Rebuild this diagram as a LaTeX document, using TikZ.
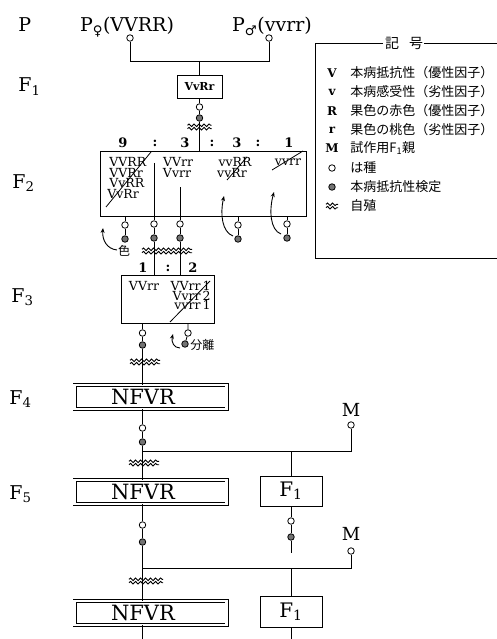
\documentclass[tikz,border=0pt]{standalone}
\usepackage{fontspec}
\setmainfont{DejaVu Serif}
\newfontfamily\jp{Noto Sans CJK JP}
\newfontfamily\symf{DejaVu Sans}
\usetikzlibrary{arrows.meta,decorations.pathmorphing}
\newcommand\myfs[1]{\fontsize{#1}{#1}\selectfont}
\tikzset{
  gen/.style={font=\myfs{19}, inner sep=0, anchor=base west},
  ptxt/.style={font=\myfs{19}, inner sep=0, anchor=base},
  oc/.style={circle, draw, fill=white, minimum size=6.5pt, inner sep=0},
  fc/.style={circle, draw, fill=black!55, minimum size=6.5pt, inner sep=0},
  sbox/.style={draw, inner sep=0},
  geno/.style={font=\myfs{12.5}, inner sep=0},
  ratio/.style={font=\bfseries\myfs{13}, inner sep=0},
  nbox/.style={draw, double, double distance=2.2pt, line width=0.9pt, inner sep=0},
  ntxt/.style={font=\myfs{21}, inner sep=0},
  ftxt/.style={font=\myfs{20}, inner sep=0},
  mtxt/.style={font=\myfs{18}, inner sep=0},
  jtxt/.style={font=\jp\myfs{12}, inner sep=0},
  legsym/.style={font=\bfseries\myfs{12}, inner sep=0},
  legtxt/.style={font=\jp\myfs{13}, inner sep=0, anchor=west},
  arr/.style={-{Stealth[length=5pt,width=4pt]}, line width=0.9pt},
  wv/.style={decorate, decoration={snake, segment length=5pt, amplitude=1.3pt}, line width=0.9pt},
  pics/selfing/.style={code={
    \draw[wv] (-#1,-1.7) -- (#1,-1.7);
    \draw[wv] (-#1,1.7) -- (#1,1.7);}},
}
\begin{document}
\begin{tikzpicture}[x=1pt,y=-1pt,line width=0.8pt]
\useasboundingbox (0,0) rectangle (497,639);

% generation labels
\node[gen] (gP) at (18,32) {P};
\node[gen] (g1) at (18,92) {F\textsubscript{1}};
\node[gen] (g2) at (12,188) {F\textsubscript{2}};
\node[gen] (g3) at (11,302) {F\textsubscript{3}};
\node[gen] (g4) at (9,404) {F\textsubscript{4}};
\node[gen] (g5) at (9,499) {F\textsubscript{5}};

% parents
\node[ptxt] (pf) at (127,32) {P\textsubscript{\symf ♀}(VVRR)};
\node[ptxt] (pm) at (272,32) {P\textsubscript{\symf ♂}(vvrr)};
\node[oc] (pfc) at (130,38) {};
\node[oc] (pmc) at (269,38) {};
\coordinate (j0) at (199.5,61);
\node[sbox, minimum width=45pt, minimum height=23pt, font=\bfseries\myfs{11}] (f1box) at (199.5,86.5) {VvRr};
\draw (pfc) |- (j0);
\draw (pmc) |- (j0);
\draw (j0) -- (f1box);

% F1 -> F2
\node[oc] (c1o) at (199.5,107) {};
\node[fc] (c1f) at (199.5,118) {};
\node[sbox, minimum width=206pt, minimum height=65pt] (f2box) at (203.5,183.5) {};
\draw (f1box) -- (c1o) -- (c1f) -- (c1f |- f2box.north);
\pic at (199.5,127) {selfing=12};

% ratio labels
\node[ratio] (r9) at (123,143) {9};
\node[ratio] (rc1) at (155,143) {:};
\node[ratio] (r3a) at (185,143) {3};
\node[ratio] (rc2) at (212,143) {:};
\node[ratio] (r3b) at (237,143) {3};
\node[ratio] (rc3) at (258,143) {:};
\node[ratio] (r1) at (289,143) {1};

% F2 genotypes
\node[geno, anchor=west] (a1) at (109,162) {VVRR};
\node[geno, anchor=west] (a2) at (109,172.5) {VVRr};
\node[geno, anchor=west] (a3) at (109,183) {VvRR};
\node[geno, anchor=west] (a4) at (107,193.5) {VvRr};
\draw (106,207) -- (151,152);
\node[geno] (b1) at (178,162) {VVrr};
\node[geno] (b2) at (177,172.5) {Vvrr};
\node[geno] (e1) at (235,162) {vvRR};
\node[geno] (e2) at (232,172.5) {vvRr};
\draw (227,180) -- (247,157);
\node[geno] (h1) at (288,162.5) {vvrr};
\draw (272,170) -- (303,151);

% F2 outputs
\coordinate (d1) at (154,163);
\coordinate (d2) at (180,187);
\node[oc] (c2ao) at (125,225) {};
\node[fc] (c2af) at (125,239) {};
\node[oc] (c2bo) at (154,224) {};
\node[fc] (c2bf) at (154,238) {};
\node[oc] (c2co) at (180,224) {};
\node[fc] (c2cf) at (180,238) {};
\node[oc] (c2do) at (238,225) {};
\node[fc] (c2df) at (238,239) {};
\node[oc] (c2eo) at (287,224) {};
\node[fc] (c2ef) at (287,238) {};
\draw (f2box.south -| c2ao) -- (c2ao) -- (c2af);
\draw (d1) -- (c2bo) -- (c2bf);
\draw (d2) -- (c2co) -- (c2cf);
\draw (f2box.south -| c2do) -- (c2do) -- (c2df);
\draw (f2box.south -| c2eo) -- (c2eo) -- (c2ef);
\node[jtxt] (iro) at (124,251) {色};
\draw[arr] (117,250) .. controls (107,249) and (102,240) .. (103,228);
\draw[arr] (233,236) .. controls (222,232) and (220,214) .. (224,196);
\draw[arr] (281,234) .. controls (270,230) and (269,210) .. (274,192);

% F3
\node[sbox, minimum width=93pt, minimum height=48pt] (f3box) at (168,299) {};
\draw (c2bf) -- (c2bf |- f3box.north);
\draw (c2cf) -- (c2cf |- f3box.north);
\pic at (167,251) {selfing=25};
\node[ratio] (s1) at (143,268) {1};
\node[ratio] (sc) at (168,268) {:};
\node[ratio] (s2) at (193,268) {2};
\node[geno] (t3a) at (144,286) {VVrr};
\node[geno, anchor=east] (t3b) at (211,286) {VVrr\,1};
\node[geno, anchor=east] (t3c) at (211,295.5) {Vvrr\,2};
\node[geno, anchor=east] (t3d) at (211,305) {vvrr\,1};
\draw (170,322) -- (210,281);

% F3 outputs
\node[oc] (c3ao) at (142.5,333) {};
\node[fc] (c3af) at (142.5,345) {};
\node[oc] (c3bo) at (188,333) {};
\node[fc] (c3bf) at (185,344) {};
\draw (f3box.south -| c3ao) -- (c3ao) -- (c3af);
\draw (f3box.south -| c3bo) -- (c3bo) -- (c3bf);
\draw[arr] (180,348) .. controls (174,348) and (171,342) .. (173,334);
\node[jtxt, anchor=west] (bunri) at (190,345) {分離};

% F4
\node[nbox, minimum width=152pt, minimum height=24pt] (f4box) at (150.5,397) {};
\node[ntxt] (f4t) at (143,397) {NFVR};
\draw (c3af) -- (c3af |- f4box.north);
\pic at (145,362) {selfing=15};

\node[oc] (c4o) at (142.5,428) {};
\node[fc] (c4f) at (142.5,442) {};
\coordinate (j4) at (142.5,451);
\coordinate (j4r) at (351,451);
\coordinate (j4m) at (291,451);
\node[mtxt] (m4) at (351,410) {M};
\node[oc] (m4c) at (351,425) {};
\draw (f4box.south -| c4o) -- (c4o) -- (c4f) -- (j4) -- (j4r) -- (m4c);

% F5
\node[nbox, minimum width=152pt, minimum height=24pt] (f5box) at (150.5,492) {};
\node[ntxt] (f5t) at (143,492) {NFVR};
\node[sbox, minimum width=62pt, minimum height=30pt] (f5f1) at (291,491) {};
\node[ftxt] (f5f1t) at (291,491) {F\textsubscript{1}};
\draw (j4) -- (j4 |- f5box.north);
\draw (j4m) -- (f5f1.north);
\pic at (144,463) {selfing=15};

\node[oc] (c5o) at (142.5,525) {};
\node[fc] (c5f) at (142.5,542) {};
\coordinate (j5) at (142.5,568);
\coordinate (j5r) at (351,568);
\coordinate (j5m) at (291,568);
\node[mtxt] (m5) at (351,534) {M};
\node[oc] (m5c) at (351,551) {};
\draw (f5box.south -| c5o) -- (c5o) -- (c5f) -- (j5) -- (j5r) -- (m5c);

\node[oc] (c5bo) at (291,521) {};
\node[fc] (c5bf) at (291,537) {};
\coordinate (c5be) at (291,553);
\draw (f5f1) -- (c5bo) -- (c5bf) -- (c5be);

% F6
\node[nbox, minimum width=152pt, minimum height=24pt] (f6box) at (150.5,613) {};
\node[ntxt] (f6t) at (143,613) {NFVR};
\node[sbox, minimum width=62pt, minimum height=31pt] (f6f1) at (291,612) {};
\node[ftxt] (f6f1t) at (291,612) {F\textsubscript{1}};
\draw (j5) -- (j5 |- f6box.north);
\draw (j5m) -- (f6f1.north);
\pic at (146,581) {selfing=17};
\coordinate (e1b) at (142.5,639);
\coordinate (e2b) at (291,639);
\draw (f6box.south -| e1b) -- (e1b);
\draw (f6f1.south) -- (e2b);

% legend
\coordinate (lgA) at (383,43);
\coordinate (lgTL) at (315,43);
\coordinate (lgBL) at (315,258);
\coordinate (lgBR) at (497,258);
\coordinate (lgB) at (424,43);
\coordinate (lgTR) at (497,43);
\draw (lgA) -- (lgTL) -- (lgBL) -- (lgBR);
\draw (lgB) -- (lgTR);
\node[font=\jp\myfs{14}, inner sep=0] (ki) at (392,43) {記};
\node[font=\jp\myfs{14}, inner sep=0] (go) at (416,43) {号};

\node[legsym] (ls1) at (332,73) {V};
\node[legtxt] (lt1) at (350,73) {本病抵抗性（優性因子）};
\node[legsym] (ls2) at (332,92) {v};
\node[legtxt] (lt2) at (350,92) {本病感受性（劣性因子）};
\node[legsym] (ls3) at (332,111) {R};
\node[legtxt] (lt3) at (350,111) {果色の赤色（優性因子）};
\node[legsym] (ls4) at (332,130) {r};
\node[legtxt] (lt4) at (350,130) {果色の桃色（劣性因子）};
\node[legsym] (ls5) at (332,148) {M};
\node[legtxt] (lt5) at (350,148) {試作用F\textsubscript{1}親};
\node[oc] (ls6) at (332,168) {};
\node[legtxt] (lt6) at (350,168) {は種};
\node[fc] (ls7) at (332,187) {};
\node[legtxt] (lt7) at (350,187) {本病抵抗性検定};
\pic at (332,206) {selfing=6};
\node[legtxt] (lt8) at (350,206) {自殖};
\end{tikzpicture}
\end{document}
